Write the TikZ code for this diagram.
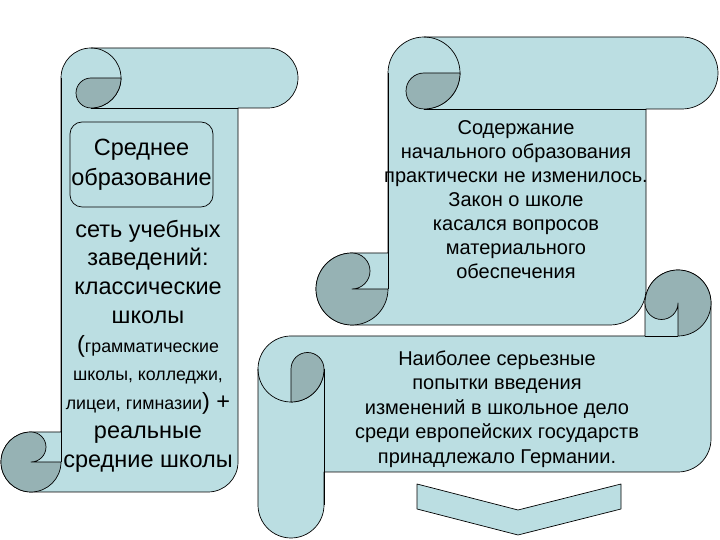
\documentclass[tikz,border=0pt]{standalone}
\usepackage{fontspec}
\setmainfont{Liberation Sans}
\definecolor{scrollblue}{RGB}{187,222,226}
\definecolor{curlgray}{RGB}{150,178,180}
\newcommand{\smalltxt}[1]{{\fontsize{17.8}{28.75}\selectfont #1}}
\begin{document}
\begin{tikzpicture}[x=1pt,y=1pt,
  paper/.style={fill=scrollblue, draw=black, line width=0.7pt, line join=round},
  curl/.style={fill=curlgray, draw=black, line width=0.7pt, line join=round},
  edge/.style={draw=black, line width=0.7pt}]
  \useasboundingbox (0,0) rectangle (720,540);
  \path[paper] (61,462) arc[start angle=180,end angle=90,radius=30] -- (268,492) arc[start angle=90,end angle=-90,radius=30] -- (238,432) -- (238,78) arc[start angle=0,end angle=-90,radius=30] -- (31,48) arc[start angle=-90,end angle=-270,radius=30] -- (61,108) -- cycle;
  \draw[edge] (238,432) -- (91,432);
  \draw[edge] (91,492) arc[start angle=90,end angle=-90,radius=30];
  \draw[edge] (61,462) -- (61,78);
  \path[curl] (91,462) arc[start angle=90,end angle=270,radius=15] arc[start angle=-90,end angle=0,radius=30] -- cycle;
  \path[curl] (31,108) arc[start angle=90,end angle=360,radius=30] -- (31,78) arc[start angle=-90,end angle=90,radius=15] -- cycle;
  \node[paper, rounded corners=12pt, minimum width=143pt, minimum height=85pt, inner sep=0pt, align=center, font=\fontsize{23.5}{30}\selectfont] (secondary) at (141.5,375.5) {Среднее\\образование};
  \node[align=center, font=\fontsize{23.5}{28.75}\selectfont] (network) at (148,194) {сеть учебных\\заведений:\\классические\\школы\\(\smalltxt{грамматические}\\\smalltxt{школы,  колледжи,}\\\smalltxt{лицеи, гимназии}) +\\реальные\\средние школы};
  \path[paper] (388,467) arc[start angle=180,end angle=90,radius=36] -- (682,503) arc[start angle=90,end angle=-90,radius=36] -- (646,431) -- (646,251) arc[start angle=0,end angle=-90,radius=36] -- (352,215) arc[start angle=-90,end angle=-270,radius=36] -- (388,287) -- cycle;
  \draw[edge] (646,431) -- (424,431);
  \draw[edge] (424,503) arc[start angle=90,end angle=-90,radius=36];
  \draw[edge] (388,467) -- (388,251);
  \path[curl] (424,467) arc[start angle=90,end angle=270,radius=18] arc[start angle=-90,end angle=0,radius=36] -- cycle;
  \path[curl] (352,287) arc[start angle=90,end angle=360,radius=36] -- (352,251) arc[start angle=-90,end angle=90,radius=18] -- cycle;
  \node[align=center, font=\fontsize{20}{24}\selectfont] (content) at (516,340) {Содержание\\начального образования\\практически не изменилось.\\Закон о школе\\касался  вопросов\\материального\\обеспечения};
  \path[paper] (258,171) arc[start angle=180,end angle=90,radius=33] -- (645,204) -- (645,237) arc[start angle=180,end angle=0,radius=33] -- (711,101) arc[start angle=0,end angle=-90,radius=33] -- (324,68) -- (324,35) arc[start angle=0,end angle=-180,radius=33] -- cycle;
  \draw[edge] (645,204) -- (678,204);
  \draw[edge] (258,171) arc[start angle=180,end angle=360,radius=33];
  \draw[edge] (324,171) -- (324,35);
  \path[curl] (678,237) -- (678,204) arc[start angle=-90,end angle=180,radius=33] arc[start angle=180,end angle=360,radius=16.5] -- cycle;
  \path[curl] (291,138) -- (291,171) arc[start angle=180,end angle=0,radius=16.5] arc[start angle=0,end angle=-90,radius=33] -- cycle;
  \node[align=center, font=\fontsize{20}{24.5}\selectfont] (germany) at (497,131) {Наиболее серьезные\\попытки введения\\изменений в школьное дело\\среди европейских государств\\принадлежало Германии.};
  \path[paper] (417,56) -- (518,30) -- (621,56) -- (621,31) -- (518,5) -- (417,31) -- cycle;
\end{tikzpicture}
\end{document}
